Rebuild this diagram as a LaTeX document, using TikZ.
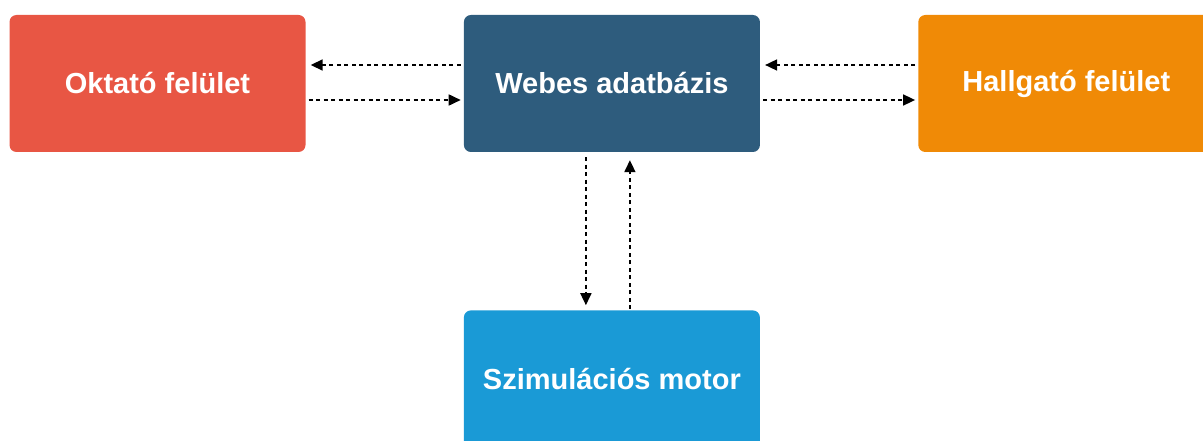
\documentclass[tikz,border=0pt]{standalone}
\usepackage{fontspec}
\setmainfont{Liberation Sans}
\usepackage{tikz}
\usetikzlibrary{arrows.meta,positioning}
\definecolor{oktatored}{RGB}{232,86,68}
\definecolor{webesblue}{RGB}{46,92,125}
\definecolor{hallgatoorange}{RGB}{240,138,6}
\definecolor{szimblue}{RGB}{26,154,214}

\begin{document}
\begin{tikzpicture}[x=1pt, y=-1pt, node distance=158pt, >={Triangle[length=12pt,width=11pt]},
  every node/.style={rounded corners=7pt, align=center, text=white, font=\fontsize{29}{34}\selectfont\bfseries, minimum width=296pt, minimum height=137pt, inner sep=0pt},
  flow/.style={->, black, line width=1.7pt, dash pattern=on 4pt off 3.5pt}]
\useasboundingbox (0,0) rectangle (1203,441);
\clip (0,0) rectangle (1203,441);
\node[fill=oktatored] (oktato) at (157.5,83.5) {Oktató felület};
\node[fill=webesblue, right=of oktato] (webes) {Webes adatbázis};
\node[fill=hallgatoorange, right=of webes] (hallgato) {Hallgató felület};
\node[fill=szimblue, below=of webes] (szim) {Szimulációs motor};
\draw[flow, shorten <=3pt, shorten >=5pt] ([yshift=18.5pt]webes.west) -- ([yshift=18.5pt]oktato.east);
\draw[flow, shorten <=3pt, shorten >=3pt] ([yshift=-16.5pt]oktato.east) -- ([yshift=-16.5pt]webes.west);
\draw[flow, shorten <=3pt, shorten >=5pt] ([yshift=18.5pt]hallgato.west) -- ([yshift=18.5pt]webes.east);
\draw[flow, shorten <=3pt, shorten >=3pt] ([yshift=-16.5pt]webes.east) -- ([yshift=-16.5pt]hallgato.west);
\draw[flow, shorten <=5pt, shorten >=5pt] ([xshift=-26pt]webes.south) -- ([xshift=-26pt]szim.north);
\draw[flow, shorten <=1pt, shorten >=8pt] ([xshift=18pt]szim.north) -- ([xshift=18pt]webes.south);
\end{tikzpicture}
\end{document}
